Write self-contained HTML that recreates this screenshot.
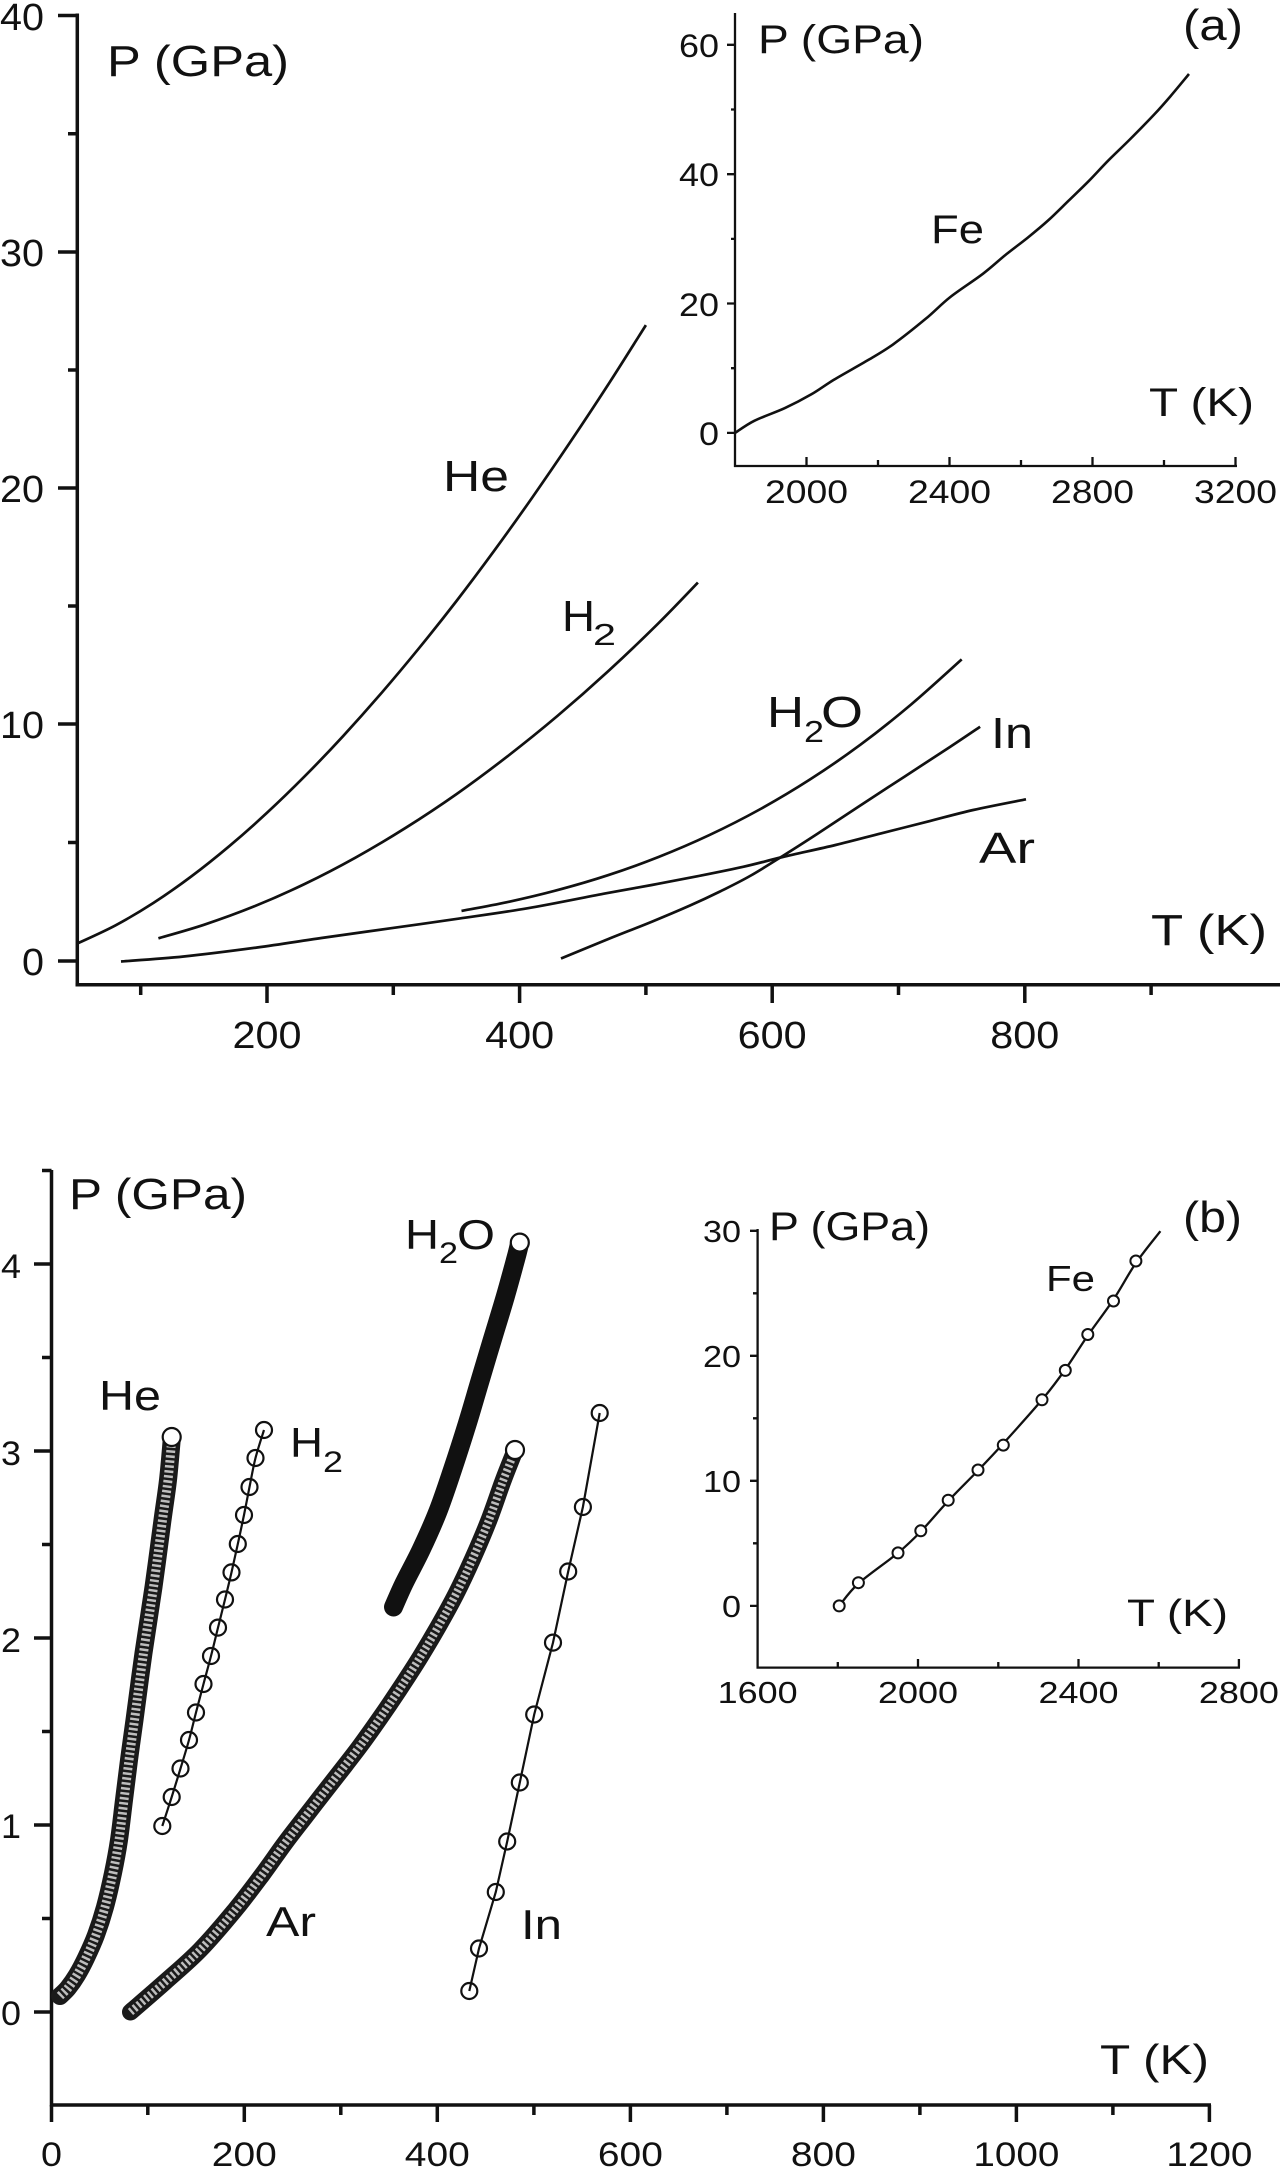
<!DOCTYPE html>
<html>
<head>
<meta charset="utf-8">
<style>
  html,body{margin:0;padding:0;background:#fff;}
  svg{display:block;}
  text{font-family:"Liberation Sans",Arial,sans-serif;fill:#111;}
</style>
</head>
<body>
<svg width="1280" height="2169" viewBox="0 0 1280 2169" xmlns="http://www.w3.org/2000/svg">
<rect width="1280" height="2169" fill="#fff"/>

<!-- ================= PANEL (a) MAIN ================= -->
<g stroke="#111" fill="none" stroke-width="3.5">
  <path d="M77.3 13.5 V986.5 M75.5 984.8 H1280"/>
  <path d="M58 15.5 H77 M58 252 H77 M58 488 H77 M58 724 H77 M58 961 H77"/>
  <path d="M68 133.7 H77 M68 370 H77 M68 606 H77 M68 842.5 H77"/>
  <path d="M267 984 V1003 M519.6 984 V1003 M772.2 984 V1003 M1024.8 984 V1003"/>
  <path d="M140.7 984 V995 M393.3 984 V995 M645.9 984 V995 M898.5 984 V995 M1151.1 984 V995"/>
</g>
<g font-size="38" text-anchor="end">
  <text x="44" y="30" textLength="44" lengthAdjust="spacingAndGlyphs">40</text>
  <text x="44" y="266" textLength="44" lengthAdjust="spacingAndGlyphs">30</text>
  <text x="44" y="502" textLength="44" lengthAdjust="spacingAndGlyphs">20</text>
  <text x="44" y="738" textLength="44" lengthAdjust="spacingAndGlyphs">10</text>
  <text x="44" y="975" textLength="22" lengthAdjust="spacingAndGlyphs">0</text>
</g>
<g font-size="38" text-anchor="middle">
  <text x="267" y="1048" textLength="69" lengthAdjust="spacingAndGlyphs">200</text>
  <text x="519.6" y="1048" textLength="69" lengthAdjust="spacingAndGlyphs">400</text>
  <text x="772.2" y="1048" textLength="69" lengthAdjust="spacingAndGlyphs">600</text>
  <text x="1024.8" y="1048" textLength="69" lengthAdjust="spacingAndGlyphs">800</text>
</g>
<g font-size="44">
  <text x="107" y="76" textLength="182" lengthAdjust="spacingAndGlyphs">P (GPa)</text>
  <text x="443" y="491" textLength="66" lengthAdjust="spacingAndGlyphs">He</text>
  <text x="562" y="631" textLength="33" lengthAdjust="spacingAndGlyphs">H</text>
  <text x="767" y="727" textLength="37" lengthAdjust="spacingAndGlyphs">H</text>
  <text x="821" y="727" textLength="42" lengthAdjust="spacingAndGlyphs">O</text>
  <text x="991" y="748" textLength="42" lengthAdjust="spacingAndGlyphs">In</text>
  <text x="979" y="863" textLength="56" lengthAdjust="spacingAndGlyphs">Ar</text>
  <text x="1151" y="945" textLength="116" lengthAdjust="spacingAndGlyphs">T (K)</text>
</g>
<g font-size="31">
  <text x="593" y="645" textLength="23" lengthAdjust="spacingAndGlyphs">2</text>
  <text x="804" y="742" textLength="20" lengthAdjust="spacingAndGlyphs">2</text>
</g>

<g stroke="#111" fill="none" stroke-width="2.7" stroke-linejoin="round" stroke-linecap="butt">
  <!-- He -->
  <path class="s" d="M77.3 943.5 L115.4 925.4 L153.3 903 L191.2 876.5 L229.1 846.3 L267 812.8 L304.9 776.1 L342.8 736.4 L380.7 693.9 L418.6 648.7 L456.5 601 L494.3 550.6 L532.2 497.6 L570.1 442.3 L608 384.9 L645.9 325.1"/>
  <!-- H2 -->
  <path class="s" d="M158.4 938.3 L203.9 924.8 L254.4 906.3 L304.9 883.9 L355.4 857.7 L405.9 827.7 L456.5 794.1 L507 756.7 L557.5 715.9 L608 671.4 L658.5 623.2 L697.9 582.6"/>
  <!-- Ar -->
  <path class="s" d="M121 961.5 L183.7 956.5 L257.1 947.5 L321.4 938 L390.3 928.3 L459.1 918.6 L528 908.2 L605.9 893.3 L651.8 885 L697.7 876.2 L743.7 866.7 L782.7 857 L835.5 845 L881.4 833.3 L927.3 821.7 L973.2 810 L1026 799.3"/>
  <!-- H2O -->
  <path class="s" d="M461.5 910.9 L507 902.2 L557.5 890.1 L608 875.2 L658.5 857 L709.1 835.2 L759.6 809.5 L810.1 779.4 L860.6 744.6 L911.1 704.5 L961.7 659.4"/>
  <!-- In -->
  <path class="s" d="M561 958.5 L605.9 940 L651.8 921.7 L690 905.5 L720 891.5 L750 876 L782.7 856 L817.1 834 L858.4 806.7 L904.4 776.7 L950.3 746.7 L980.1 726.7"/>
</g>

<!-- ================= PANEL (a) INSET ================= -->
<g stroke="#111" fill="none" stroke-width="2.3">
  <path d="M735 13 V467 M734 466 H1237"/>
  <path d="M727 44.8 H735 M727 174.2 H735 M727 303.5 H735 M727 432.9 H735"/>
  <path d="M731 109.5 H735 M731 238.9 H735 M731 368.2 H735"/>
  <path d="M806.5 466 V457 M949.5 466 V457 M1092.5 466 V457 M1235.5 466 V457"/>
  <path d="M878 466 V460 M1021 466 V460 M1164 466 V460"/>
</g>
<g font-size="32" text-anchor="end">
  <text x="719" y="57" textLength="40" lengthAdjust="spacingAndGlyphs">60</text>
  <text x="719" y="186" textLength="40" lengthAdjust="spacingAndGlyphs">40</text>
  <text x="719" y="316" textLength="40" lengthAdjust="spacingAndGlyphs">20</text>
  <text x="719" y="445" textLength="20" lengthAdjust="spacingAndGlyphs">0</text>
</g>
<g font-size="32" text-anchor="middle">
  <text x="806.5" y="503" textLength="83" lengthAdjust="spacingAndGlyphs">2000</text>
  <text x="949.5" y="503" textLength="83" lengthAdjust="spacingAndGlyphs">2400</text>
  <text x="1092.5" y="503" textLength="83" lengthAdjust="spacingAndGlyphs">2800</text>
  <text x="1235.5" y="503" textLength="83" lengthAdjust="spacingAndGlyphs">3200</text>
</g>
<g font-size="40">
  <text x="758" y="53" textLength="166" lengthAdjust="spacingAndGlyphs">P (GPa)</text>
  <text x="1183" y="40" font-size="44" textLength="60" lengthAdjust="spacingAndGlyphs">(a)</text>
  <text x="931" y="243" textLength="53" lengthAdjust="spacingAndGlyphs">Fe</text>
  <text x="1149" y="416" textLength="105" lengthAdjust="spacingAndGlyphs">T (K)</text>
</g>
<path class="s" d="M735.1 432.9 L754.3 420.8 L784.9 408.1 L811.4 394.3 L833.9 379.8 L868.6 359.8 L893.1 344.4 L925.7 318.8 L950.2 297.1 L982.9 273.8 L1006 254.5 L1027.8 237.6 L1048.2 220.4 L1068.6 200.7 L1089 180.8 L1108 160.8 L1129.8 139.5 L1154.3 114.4 L1170.6 96.1 L1189 74" stroke="#111" fill="none" stroke-width="2.6" stroke-linejoin="round"/>

<!-- ================= PANEL (b) MAIN ================= -->
<g stroke="#111" fill="none" stroke-width="3.5">
  <path d="M51.5 1170 V2106.5 M50 2105 H1211"/>
  <path d="M34 1264 H51.5 M34 1451 H51.5 M34 1638 H51.5 M34 1825 H51.5 M34 2012 H51.5"/>
  <path d="M42 1170.5 H51.5 M42 1357.5 H51.5 M42 1544.5 H51.5 M42 1731.5 H51.5 M42 1918.5 H51.5"/>
  <path d="M51.5 2105 V2122 M244.3 2105 V2122 M437.3 2105 V2122 M630.4 2105 V2122 M823.4 2105 V2122 M1016.4 2105 V2122 M1209.4 2105 V2122"/>
  <path d="M147.8 2105 V2115 M340.8 2105 V2115 M533.9 2105 V2115 M726.9 2105 V2115 M919.9 2105 V2115 M1112.9 2105 V2115"/>
</g>
<g font-size="34" text-anchor="end">
  <text x="21" y="1278" textLength="20" lengthAdjust="spacingAndGlyphs">4</text>
  <text x="21" y="1465" textLength="20" lengthAdjust="spacingAndGlyphs">3</text>
  <text x="21" y="1652" textLength="20" lengthAdjust="spacingAndGlyphs">2</text>
  <text x="21" y="1838" textLength="20" lengthAdjust="spacingAndGlyphs">1</text>
  <text x="21" y="2025" textLength="20" lengthAdjust="spacingAndGlyphs">0</text>
</g>
<g font-size="34" text-anchor="middle">
  <text x="51.5" y="2166" textLength="21" lengthAdjust="spacingAndGlyphs">0</text>
  <text x="244.3" y="2166" textLength="65" lengthAdjust="spacingAndGlyphs">200</text>
  <text x="437.3" y="2166" textLength="65" lengthAdjust="spacingAndGlyphs">400</text>
  <text x="630.4" y="2166" textLength="65" lengthAdjust="spacingAndGlyphs">600</text>
  <text x="823.4" y="2166" textLength="65" lengthAdjust="spacingAndGlyphs">800</text>
  <text x="1016.4" y="2166" textLength="86" lengthAdjust="spacingAndGlyphs">1000</text>
  <text x="1209.4" y="2166" textLength="86" lengthAdjust="spacingAndGlyphs">1200</text>
</g>
<g font-size="42">
  <text x="69" y="1209" font-size="44" textLength="178" lengthAdjust="spacingAndGlyphs">P (GPa)</text>
  <text x="99" y="1410" textLength="62" lengthAdjust="spacingAndGlyphs">He</text>
  <text x="290" y="1457" textLength="33" lengthAdjust="spacingAndGlyphs">H</text>
  <text x="405" y="1249" textLength="34" lengthAdjust="spacingAndGlyphs">H</text>
  <text x="457" y="1249" textLength="38" lengthAdjust="spacingAndGlyphs">O</text>
  <text x="266" y="1936" textLength="50" lengthAdjust="spacingAndGlyphs">Ar</text>
  <text x="521" y="1939" textLength="41" lengthAdjust="spacingAndGlyphs">In</text>
  <text x="1100" y="2074" textLength="109" lengthAdjust="spacingAndGlyphs">T (K)</text>
</g>
<g font-size="30">
  <text x="323" y="1472" textLength="20" lengthAdjust="spacingAndGlyphs">2</text>
  <text x="439" y="1263" textLength="19" lengthAdjust="spacingAndGlyphs">2</text>
</g>

<!-- He band -->
<g fill="none" stroke-linejoin="round" stroke-linecap="round">
  <path class="s" d="M60 1996 L68 1988 L77 1975 L86 1958 L96 1935 L105 1907 L113 1873 L119 1840 L124 1800 L129 1760 L134.5 1720 L143.5 1653 L153.5 1587 L162.5 1520 L168 1480 L171.7 1440" stroke="#1a1a1a" stroke-width="18"/>
  <path class="s" d="M60 1996 L68 1988 L77 1975 L86 1958 L96 1935 L105 1907 L113 1873 L119 1840 L124 1800 L129 1760 L134.5 1720 L143.5 1653 L153.5 1587 L162.5 1520 L168 1480 L171.7 1440" stroke="#bdbdbd" stroke-width="9" stroke-dasharray="2.5 2.5" stroke-linecap="butt"/>
  <!-- Ar band -->
  <path class="s" d="M130.5 2012 L165 1982 L200 1950 L235 1910 L262 1875 L285 1843 L305 1817 L322 1795 L340 1772 L360 1746 L380 1718 L399 1690 L419 1659 L438 1627 L456 1594 L473 1558 L489 1520 L503 1481 L514 1453" stroke="#1a1a1a" stroke-width="17"/>
  <path class="s" d="M130.5 2012 L165 1982 L200 1950 L235 1910 L262 1875 L285 1843 L305 1817 L322 1795 L340 1772 L360 1746 L380 1718 L399 1690 L419 1659 L438 1627 L456 1594 L473 1558 L489 1520 L503 1481 L514 1453" stroke="#bdbdbd" stroke-width="8" stroke-dasharray="2.5 2.5" stroke-linecap="butt"/>
  <!-- H2O band -->
  <path class="s" d="M393.5 1607 L404 1583.5 L421 1550 L437.7 1512 L452.4 1470 L467.2 1424 L479.8 1381.5 L492.4 1339.4 L505.1 1297.3 L515.6 1259.4 L519 1246" stroke="#111" stroke-width="19"/>
</g>
<g fill="#fff" stroke="#111" stroke-width="2.2">
  <circle cx="171.7" cy="1437" r="9"/>
  <circle cx="515" cy="1450" r="9"/>
  <circle cx="519.8" cy="1242.6" r="9"/>
</g>

<!-- H2 line + circles -->
<path class="s" d="M162.3 1826 L171.7 1797 L180.5 1768.5 L189 1740 L196 1712.5 L203.5 1684 L211 1656 L218 1627.6 L225 1599.5 L231.5 1572.4 L237.8 1544 L244 1515 L249.5 1487 L255.5 1458 L264 1430" stroke="#111" stroke-width="2.2" fill="none"/>
<g fill="none" stroke="#111" stroke-width="2.2">
  <circle cx="162.3" cy="1826" r="8"/>
  <circle cx="171.7" cy="1797" r="8"/>
  <circle cx="180.5" cy="1768.5" r="8"/>
  <circle cx="189" cy="1740" r="8"/>
  <circle cx="196" cy="1712.5" r="8"/>
  <circle cx="203.5" cy="1684" r="8"/>
  <circle cx="211" cy="1656" r="8"/>
  <circle cx="218" cy="1627.6" r="8"/>
  <circle cx="225" cy="1599.5" r="8"/>
  <circle cx="231.5" cy="1572.4" r="8"/>
  <circle cx="237.8" cy="1544" r="8"/>
  <circle cx="244" cy="1515" r="8"/>
  <circle cx="249.5" cy="1487" r="8"/>
  <circle cx="255.5" cy="1458" r="8"/>
  <circle cx="264" cy="1430" r="8"/>
</g>

<!-- In line + circles -->
<path d="M469.3 1991 L479 1948.5 L495.8 1892 L507.2 1841.5 L519.8 1782.5 L534.2 1714.5 L553 1642.6 L568.2 1571.5 L582.9 1507 L599.7 1413" stroke="#111" stroke-width="2.2" fill="none"/>
<g fill="none" stroke="#111" stroke-width="2.2">
  <circle cx="469.3" cy="1991" r="8"/>
  <circle cx="479" cy="1948.5" r="8"/>
  <circle cx="495.8" cy="1892" r="8"/>
  <circle cx="507.2" cy="1841.5" r="8"/>
  <circle cx="519.8" cy="1782.5" r="8"/>
  <circle cx="534.2" cy="1714.5" r="8"/>
  <circle cx="553" cy="1642.6" r="8"/>
  <circle cx="568.2" cy="1571.5" r="8"/>
  <circle cx="582.9" cy="1507" r="8"/>
  <circle cx="599.7" cy="1413" r="8"/>
</g>

<!-- ================= PANEL (b) INSET ================= -->
<g stroke="#111" fill="none" stroke-width="2.3">
  <path d="M757.6 1229 V1668.6 M756.5 1667.6 H1240"/>
  <path d="M750 1230.8 H757.6 M750 1355.8 H757.6 M750 1480.8 H757.6 M750 1605.9 H757.6"/>
  <path d="M753 1293.3 H757.6 M753 1418.3 H757.6 M753 1543.3 H757.6"/>
  <path d="M918 1667.6 V1659 M1078.5 1667.6 V1659 M1238.9 1667.6 V1659"/>
  <path d="M837.8 1667.6 V1662 M998.3 1667.6 V1662 M1158.7 1667.6 V1662"/>
</g>
<g font-size="31" text-anchor="end">
  <text x="741" y="1242" textLength="38" lengthAdjust="spacingAndGlyphs">30</text>
  <text x="741" y="1367" textLength="38" lengthAdjust="spacingAndGlyphs">20</text>
  <text x="741" y="1492" textLength="38" lengthAdjust="spacingAndGlyphs">10</text>
  <text x="741" y="1617" textLength="19" lengthAdjust="spacingAndGlyphs">0</text>
</g>
<g font-size="31" text-anchor="middle">
  <text x="757.6" y="1703" textLength="80" lengthAdjust="spacingAndGlyphs">1600</text>
  <text x="918" y="1703" textLength="80" lengthAdjust="spacingAndGlyphs">2000</text>
  <text x="1078.5" y="1703" textLength="80" lengthAdjust="spacingAndGlyphs">2400</text>
  <text x="1238.9" y="1703" textLength="80" lengthAdjust="spacingAndGlyphs">2800</text>
</g>
<g font-size="40">
  <text x="769" y="1240" textLength="161" lengthAdjust="spacingAndGlyphs">P (GPa)</text>
  <text x="1183" y="1232" font-size="44" textLength="59" lengthAdjust="spacingAndGlyphs">(b)</text>
  <text x="1046" y="1291" font-size="36" textLength="49" lengthAdjust="spacingAndGlyphs">Fe</text>
  <text x="1127" y="1626" font-size="38" textLength="101" lengthAdjust="spacingAndGlyphs">T (K)</text>
</g>
<path class="s" d="M839.2 1605.9 L858.4 1583.5 L898 1552.9 L920.8 1531.5 L948.2 1501 L978 1470.5 L1003.3 1443.5 L1042 1399.8 L1065.3 1369.4 L1087.8 1335.5 L1113.5 1299.5 L1135.9 1263 L1160.4 1231.2" stroke="#111" stroke-width="2.3" fill="none" stroke-linejoin="round"/>
<g fill="#fff" stroke="#111" stroke-width="2">
  <circle cx="839.2" cy="1605.9" r="5.5"/>
  <circle cx="858.4" cy="1582.7" r="5.5"/>
  <circle cx="898" cy="1552.9" r="5.5"/>
  <circle cx="920.8" cy="1530.8" r="5.5"/>
  <circle cx="948.2" cy="1500.2" r="5.5"/>
  <circle cx="978" cy="1470" r="5.5"/>
  <circle cx="1003.3" cy="1445.1" r="5.5"/>
  <circle cx="1042" cy="1399.8" r="5.5"/>
  <circle cx="1065.3" cy="1370.4" r="5.5"/>
  <circle cx="1087.8" cy="1334.5" r="5.5"/>
  <circle cx="1113.5" cy="1301" r="5.5"/>
  <circle cx="1135.9" cy="1261" r="5.5"/>
</g>

</svg>
<script>
(function(){
  var paths = document.querySelectorAll('path.s');
  for (var k = 0; k < paths.length; k++) {
    var p = paths[k];
    var nums = p.getAttribute('d').match(/-?\d+(\.\d+)?/g).map(Number);
    var pts = [];
    for (var i = 0; i + 1 < nums.length; i += 2) pts.push([nums[i], nums[i+1]]);
    if (pts.length < 3) continue;
    var d = 'M' + pts[0][0] + ' ' + pts[0][1];
    for (var i = 0; i < pts.length - 1; i++) {
      var p0 = pts[i-1] || pts[i], p1 = pts[i], p2 = pts[i+1], p3 = pts[i+2] || pts[i+1];
      var c1x = p1[0] + (p2[0]-p0[0])/6, c1y = p1[1] + (p2[1]-p0[1])/6;
      var c2x = p2[0] - (p3[0]-p1[0])/6, c2y = p2[1] - (p3[1]-p1[1])/6;
      d += ' C' + c1x.toFixed(2) + ' ' + c1y.toFixed(2) + ' ' + c2x.toFixed(2) + ' ' + c2y.toFixed(2) + ' ' + p2[0] + ' ' + p2[1];
    }
    p.setAttribute('d', d);
  }
})();
</script>
</body>
</html>
